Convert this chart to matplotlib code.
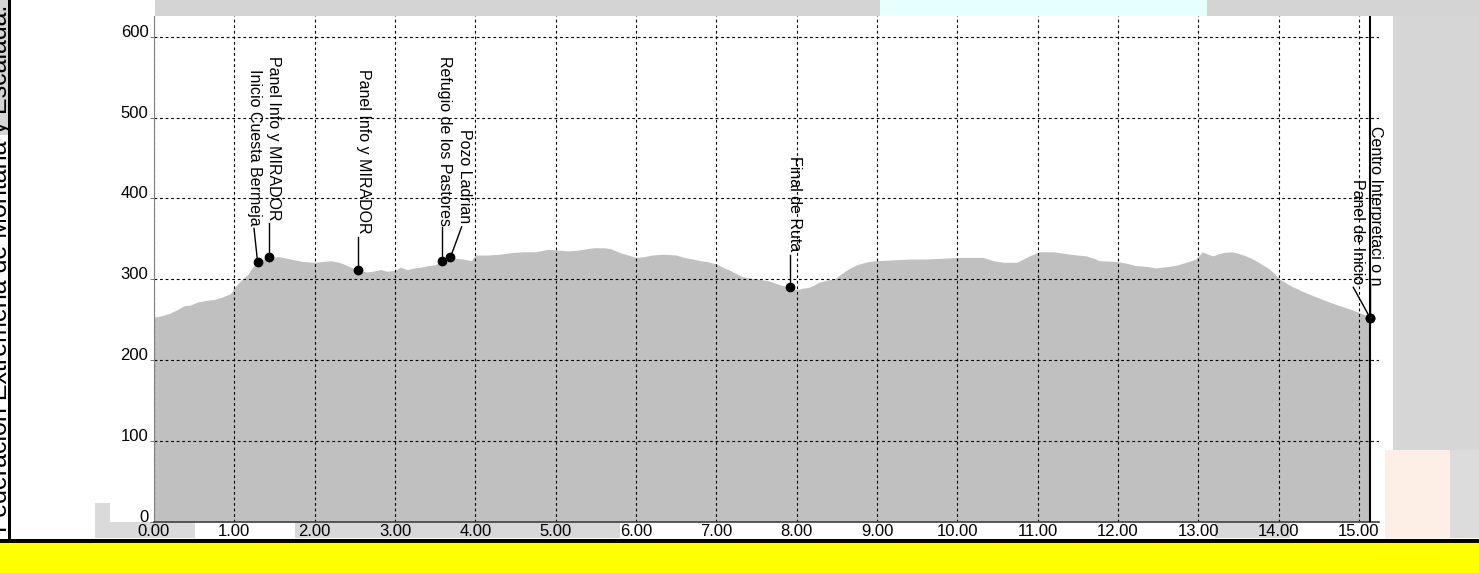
import matplotlib
matplotlib.use("Agg")
import matplotlib.pyplot as plt
from matplotlib.patches import Rectangle

plt.rcParams['font.family'] = ['Liberation Sans', 'DejaVu Sans']

# perfil: distancia (km) y altitud (m)
dist_km = [0.00, 0.10, 0.20, 0.30, 0.37, 0.45, 0.55, 0.66, 0.75, 0.85, 0.95, 1.02, 1.10, 1.16,
           1.22, 1.29, 1.36, 1.44, 1.55, 1.70, 1.85, 2.00, 2.10, 2.20, 2.30, 2.36, 2.45, 2.55,
           2.65, 2.73, 2.82, 2.90, 3.00, 3.07, 3.15, 3.25, 3.32, 3.42, 3.50, 3.58, 3.64, 3.69,
           3.75, 3.85, 3.95, 4.00, 4.15, 4.30, 4.45, 4.60, 4.75, 4.90, 5.05, 5.15, 5.27, 5.40,
           5.47, 5.60, 5.68, 5.80, 5.90, 6.00, 6.10, 6.20, 6.34, 6.50, 6.60, 6.71, 6.80, 6.88,
           7.00, 7.10, 7.17, 7.25, 7.33, 7.45, 7.54, 7.65, 7.71, 7.83, 7.92, 8.00, 8.08, 8.15,
           8.22, 8.27, 8.38, 8.48, 8.56, 8.65, 8.75, 8.82, 8.90, 9.00, 9.20, 9.40, 9.60, 9.81,
           10.00, 10.16, 10.32, 10.45, 10.57, 10.74, 10.82, 10.90, 11.02, 11.10, 11.20, 11.40,
           11.60, 11.70, 11.77, 11.98, 12.10, 12.22, 12.35, 12.47, 12.55, 12.64, 12.75, 12.85,
           12.97, 13.05, 13.12, 13.18, 13.30, 13.42, 13.50, 13.59, 13.68, 13.75, 13.88, 13.95,
           14.00, 14.15, 14.30, 14.47, 14.60, 14.68, 14.80, 14.89, 15.00, 15.14]
elev_m = [253, 255, 258, 263, 267, 268, 272, 274, 275, 278, 282, 292, 300, 305,
          314, 321, 325, 327, 328, 325, 322, 321, 322, 323, 321, 319, 315, 311,
          309, 310, 312, 310, 311, 315, 312, 314, 315, 317, 318, 322, 321, 327,
          326, 325, 323, 330, 330, 331, 333, 334, 334, 337, 336, 335, 336, 338,
          339, 339, 338, 333, 330, 327, 328, 330, 331, 330, 327, 325, 323, 322,
          319, 314, 311, 307, 303, 301, 300, 298, 296, 292, 290, 287, 289, 290,
          293, 296, 299, 301, 307, 313, 318, 320, 322, 323, 324, 325, 325, 326,
          327, 327, 327, 323, 321, 321, 325, 329, 334, 334, 334, 331,
          329, 326, 323, 322, 320, 317, 316, 314, 315, 316, 318, 321,
          325, 334, 331, 329, 333, 334, 332, 329, 325, 321, 313, 307,
          301, 292, 285, 278, 273, 270, 266, 263, 259, 253]

# puntos de paso
wp_names = ["Inicio Cuesta Bermeja", "Panel Info y MIRADOR", "Panel Info y MIRADOR",
            "Refugio de los Pastores", "Pozo Ladrian", "Final de Ruta",
            "Centro Interpretaci o n", "Panel de Inicio"]
wp_km = [1.29, 1.43, 2.54, 3.58, 3.69, 7.92, 15.14, 15.14]
wp_elev = [321, 327, 311, 322, 327, 291, 252, 252]
label_km = [1.245, 1.49, 2.61, 3.62, 3.87, 7.97, 15.21, 14.98]
label_top = [560, 576, 560, 576, 486, 453, 490, 424]
leader_km = [1.245, 1.43, 2.54, 3.58, 3.83, 7.92, 15.14, 14.93]
leader_top = [363, 370, 352, 365, 365, 330, 297, 290]

x_ticks = list(range(0, 16))
x_labels = ["%.2f" % v for v in x_ticks]
y_ticks = [0, 100, 200, 300, 400, 500, 600]

fig = plt.figure(figsize=(14.79, 5.73), dpi=100)
fig.patch.set_facecolor("white")

# fondo: bandas y marcas de agua
def px_rect(x0, y0, x1, y1, color, z=0):
    fig.patches.append(Rectangle((x0 / 1479, 1 - y1 / 573), (x1 - x0) / 1479, (y1 - y0) / 573,
                                 transform=fig.transFigure, facecolor=color, edgecolor="none",
                                 zorder=z))

px_rect(155, 0, 880, 16, "#d4d4d4")
px_rect(880, 0, 1207, 16, "#e6ffff")
px_rect(1207, 0, 1479, 16, "#d4d4d4")
px_rect(1393, 16, 1479, 450, "#d6d6d6")
px_rect(1385, 450, 1479, 538, "#fdeee6")
px_rect(1450, 450, 1479, 538, "#dcdcdc")
px_rect(1215, 505, 1290, 538, "#d8d8d8")
px_rect(95, 503, 110, 538, "#dadada")
px_rect(100, 522, 195, 538, "#dadada")
px_rect(295, 518, 620, 538, "#d8d8d8")
px_rect(0, 0, 10, 135, "#d4d4d4")
px_rect(0, 540, 1479, 573, "#ffff00")
fig.text(12 / 1479, 1 - 532 / 573, "Federación Extremeña de Montaña y Escalada.", rotation=90,
         ha="right", va="bottom", fontsize=18, color="black", zorder=1)
px_rect(0, 539, 1479, 543, "black", z=3)
px_rect(8, 0, 11, 543, "black", z=3)

ax = fig.add_axes([154 / 1479, (573 - 521.5) / 573, (1379 - 154) / 1479, (521.5 - 16) / 573])
ax.set_zorder(2)
ax.set_facecolor("white")
ax.fill_between(dist_km, elev_m, 0, color="#c0c0c0", lw=0, zorder=1)
ax.set_xlim(0, 15.25)
ax.set_ylim(0, 626)

ax.set_xticks(x_ticks)
ax.set_xticklabels(x_labels)
ax.set_yticks(y_ticks)
ax.grid(True, color="black", linestyle=(0, (2.5, 2.5)), linewidth=0.8)
ax.tick_params(axis="x", labelsize=12, length=0, pad=1.5)
ax.tick_params(axis="y", labelsize=12, length=3, width=0.6, color="#606060", pad=1)
for lbl in ax.get_yticklabels():
    lbl.set_verticalalignment("baseline")
for s in ["top", "right"]:
    ax.spines[s].set_visible(False)
ax.spines["left"].set_color("#808080")
ax.spines["bottom"].set_color("#404040")
ax.spines["bottom"].set_linewidth(1.2)

ax.axvline(dist_km[-1], color="black", lw=1.5, zorder=3)

for name, xk, yk, lx, ly, tx, ty in zip(wp_names, wp_km, wp_elev, label_km, label_top,
                                        leader_km, leader_top):
    ax.plot([tx, xk], [ty, yk], color="black", lw=1, zorder=4)
    ax.plot(xk, yk, "o", color="black", markersize=6, zorder=5)
    ax.text(lx, ly, name, rotation=270, ha="center", va="top", fontsize=11.5, zorder=6)

fig.savefig("out.png", dpi=100)
